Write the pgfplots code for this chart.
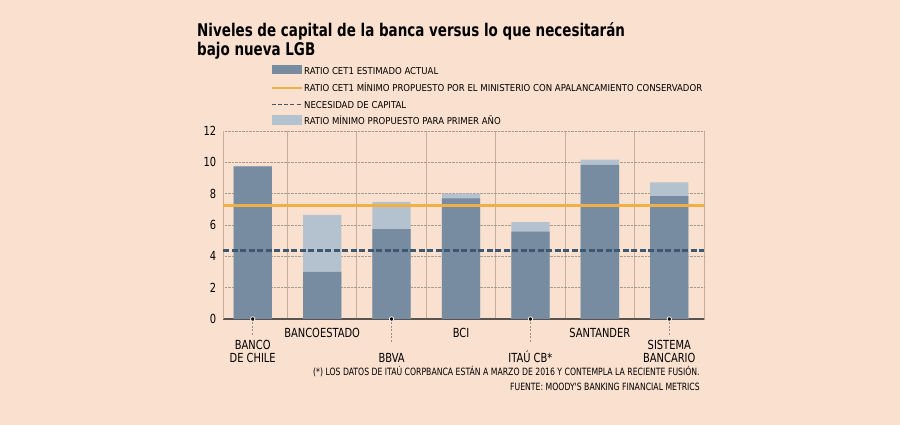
\documentclass[border=0pt]{standalone}
\usepackage{fontspec}
\setmainfont{DejaVu Sans Condensed}
\newfontfamily\titlefont[FakeStretch=0.77]{DejaVu Sans}
\newfontfamily\labelfont[FakeStretch=0.88]{DejaVu Sans Condensed}
\newfontfamily\notefont[FakeStretch=0.86]{DejaVu Sans Condensed}
\usepackage{pgfplots}
\pgfplotsset{compat=1.18}
\definecolor{bg}{HTML}{FAE0CE}
\definecolor{darkbar}{HTML}{778CA0}
\definecolor{lightbar}{HTML}{B4C2CF}
\definecolor{orangeline}{HTML}{F0B048}
\definecolor{dashline}{HTML}{3E5870}
\definecolor{gridc}{HTML}{A89A8C}
\definecolor{sepc}{HTML}{C4AE9C}
\definecolor{axisc}{HTML}{5A5450}
\definecolor{connc}{HTML}{A09080}
\begin{document}
\begin{tikzpicture}
\fill[bg] (0pt,0pt) rectangle (900pt,425pt);
\path[use as bounding box] (0pt,0pt) rectangle (900pt,425pt);
\node[anchor=base west, inner sep=0pt, font=\titlefont\bfseries\fontsize{17.5}{20}\selectfont] at (197pt,388.3pt) {Niveles de capital de la banca versus lo que necesitarán};
\node[anchor=base west, inner sep=0pt, font=\titlefont\bfseries\fontsize{17.5}{20}\selectfont] at (197pt,369.5pt) {bajo nueva LGB};
% legend
\fill[darkbar] (271.7pt,350.7pt) rectangle (302.3pt,360.2pt);
\node[anchor=base west, inner sep=0pt, font=\fontsize{9.5}{10}\selectfont] at (304pt,350.7pt) {RATIO CET1 ESTIMADO ACTUAL};
\draw[orangeline, line width=2pt] (271.7pt,337.3pt) -- (302.3pt,337.3pt);
\node[anchor=base west, inner sep=0pt, font=\fontsize{9.5}{10}\selectfont] at (304pt,333.3pt) {RATIO CET1 MÍNIMO PROPUESTO POR EL MINISTERIO CON APALANCAMIENTO CONSERVADOR};
\draw[dashline, line width=1.5pt, dash pattern=on 4pt off 2.2pt] (271.7pt,320.7pt) -- (302.3pt,320.7pt);
\node[anchor=base west, inner sep=0pt, font=\fontsize{9.5}{10}\selectfont] at (304pt,316.7pt) {NECESIDAD DE CAPITAL};
\fill[lightbar] (271.7pt,300pt) rectangle (302.3pt,309.5pt);
\node[anchor=base west, inner sep=0pt, font=\fontsize{9.5}{10}\selectfont] at (304pt,300pt) {RATIO MÍNIMO PROPUESTO PARA PRIMER AÑO};
\begin{axis}[
  at={(223.3pt,106pt)}, anchor=south west,
  width=480.7pt, height=188pt, scale only axis,
  xmin=-0.424, xmax=6.5, ymin=0, ymax=12,
  clip=false,
  xtick={0.5,1.5,2.5,3.5,4.5,5.5,6.5}, xticklabels={},
  ytick={0,2,4,6,8,10,12},
  major tick length=0pt,
  xmajorgrids, ymajorgrids,
  x grid style={sepc, line width=0.8pt},
  y grid style={gridc, densely dotted, line width=0.6pt},
  axis x line*=bottom, axis y line*=left,
  x axis line style={axisc, line width=1.2pt, -},
  y axis line style={sepc, line width=0.8pt, -},
  /pgf/number format/assume math mode=true,
  yticklabel style={font=\labelfont\fontsize{12.5}{13}\selectfont, inner sep=0pt, xshift=-7pt},
]
% light bars (minimum for first year)
\addplot[ybar, bar width=38.3pt, bar shift=0pt, fill=lightbar, draw=none]
  coordinates {(0,9.74) (1,6.64) (2,7.47) (3,8.00) (4,6.19) (5,10.17) (6,8.72)};
% dark bars (estimated CET1)
\addplot[ybar, bar width=38.3pt, bar shift=0pt, fill=darkbar, draw=none]
  coordinates {(0,9.74) (1,3.00) (2,5.74) (3,7.70) (4,5.57) (5,9.83) (6,7.85)};
% reference lines
\addplot[orangeline, line width=2.8pt] coordinates {(-0.424,7.23) (6.5,7.23)};
\addplot[dashline, line width=2.6pt, dash pattern=on 6pt off 2.5pt] coordinates {(-0.424,4.38) (6.5,4.38)};
% label connectors
\addplot[connc, dash pattern=on 2pt off 1.5pt, line width=0.7pt] coordinates {(0,0) (0,-1.1)};
\addplot[connc, dash pattern=on 2pt off 1.5pt, line width=0.7pt] coordinates {(2,0) (2,-1.55)};
\addplot[connc, dash pattern=on 2pt off 1.5pt, line width=0.7pt] coordinates {(4,0) (4,-1.55)};
\addplot[connc, dash pattern=on 2pt off 1.5pt, line width=0.7pt] coordinates {(6,0) (6,-1.1)};
\addplot[only marks, mark=*, mark size=2.2pt, mark options={fill=black, draw=white, line width=0.7pt}]
  coordinates {(0,0) (2,0) (4,0) (6,0)};
% category labels
\begin{scope}[every node/.style={align=center, inner sep=0pt, anchor=base, font=\labelfont\fontsize{12.5}{13}\selectfont}]
\node at (axis cs:0,-2.77) {BANCO\\DE CHILE};
\node at (axis cs:1,-1.15) {BANCOESTADO};
\node at (axis cs:2,-2.77) {BBVA};
\node at (axis cs:3,-1.15) {BCI};
\node at (axis cs:4,-2.77) {ITAÚ CB*};
\node at (axis cs:5,-1.15) {SANTANDER};
\node at (axis cs:6,-2.77) {SISTEMA\\BANCARIO};
\end{scope}
\end{axis}
\node[anchor=base east, inner sep=0pt, font=\notefont\fontsize{10}{10}\selectfont] at (700pt,49pt) {(*) LOS DATOS DE ITAÚ CORPBANCA ESTÁN A MARZO DE 2016 Y CONTEMPLA LA RECIENTE FUSIÓN.};
\node[anchor=base east, inner sep=0pt, font=\notefont\fontsize{10}{10}\selectfont] at (700pt,34.5pt) {FUENTE: MOODY'S BANKING FINANCIAL METRICS};
\end{tikzpicture}
\end{document}
